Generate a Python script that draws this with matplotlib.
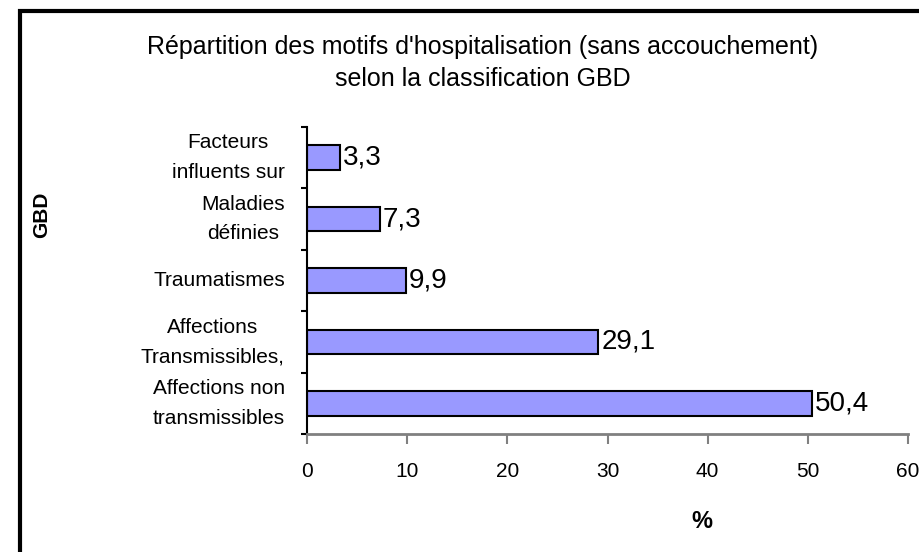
import matplotlib
matplotlib.use("Agg")
import matplotlib.pyplot as plt
from matplotlib.patches import Rectangle

plt.rcParams["font.family"] = ["Liberation Sans", "DejaVu Sans"]

# données
categories = [
    "Facteurs\ninfluents sur",
    "Maladies\ndéfinies",
    "Traumatismes",
    "Affections\nTransmissibles,",
    "Affections non\ntransmissibles",
]
valeurs = [3.3, 7.3, 9.9, 29.1, 50.4]
etiquettes = ["3,3", "7,3", "9,9", "29,1", "50,4"]
xticks = [0, 10, 20, 30, 40, 50, 60]

W, H = 919, 552
fig = plt.figure(figsize=(W / 100, H / 100), dpi=100)
ax = fig.add_axes([307 / W, 1 - 434 / H, (908 - 307) / W, (434 - 127) / H])

# barres, du haut vers le bas
pos = list(range(len(categories)))[::-1]
ax.barh(pos, valeurs, height=0.4, color="#9999FF", edgecolor="black", linewidth=1.5)
for p, v, t in zip(pos, valeurs, etiquettes):
    ax.annotate(t, (v, p), xytext=(2, 0), textcoords="offset points",
                va="center", ha="left", fontsize=20)

ax.set_xlim(0, 60)
ax.set_ylim(-0.5, len(categories) - 0.5)
ax.set_xticks(xticks)
ax.set_xticklabels([str(x) for x in xticks], fontsize=15)
ax.set_yticks(pos)
ax.set_yticklabels(categories, fontsize=15, multialignment="center", linespacing=1.7)
for lab in ax.get_yticklabels():
    lab.set_va("center")
ax.set_yticks([p - 0.5 for p in range(len(categories) + 1)], minor=True)
ax.tick_params(axis="y", which="major", length=0, pad=16)
ax.tick_params(axis="y", which="minor", length=4, width=1.5, color="black", direction="out")
ax.tick_params(axis="x", length=7, width=1.5, color="#808080", direction="out", pad=13)

for s in ["top", "right"]:
    ax.spines[s].set_visible(False)
ax.spines["left"].set_linewidth(1.5)
ax.spines["left"].set_color("black")
ax.spines["bottom"].set_linewidth(2)
ax.spines["bottom"].set_color("#808080")

# titres
fig.text(483 / W, 1 - 63 / H,
         "Répartition des motifs d'hospitalisation (sans accouchement)\nselon la classification GBD",
         ha="center", va="center", fontsize=18, linespacing=1.4)
fig.text(702 / W, 1 - 521 / H, "%", ha="center", va="center", fontsize=17, fontweight="bold")
fig.text(42 / W, 1 - 215 / H, "GBD", ha="center", va="center", rotation=90,
         fontsize=15, fontweight="bold")

# cadre
fig.patches.append(Rectangle((20 / W, -0.5), 2, 1.5 - 11 / H, transform=fig.transFigure,
                             fill=False, edgecolor="black", linewidth=3))

fig.savefig("out.png", dpi=100)
